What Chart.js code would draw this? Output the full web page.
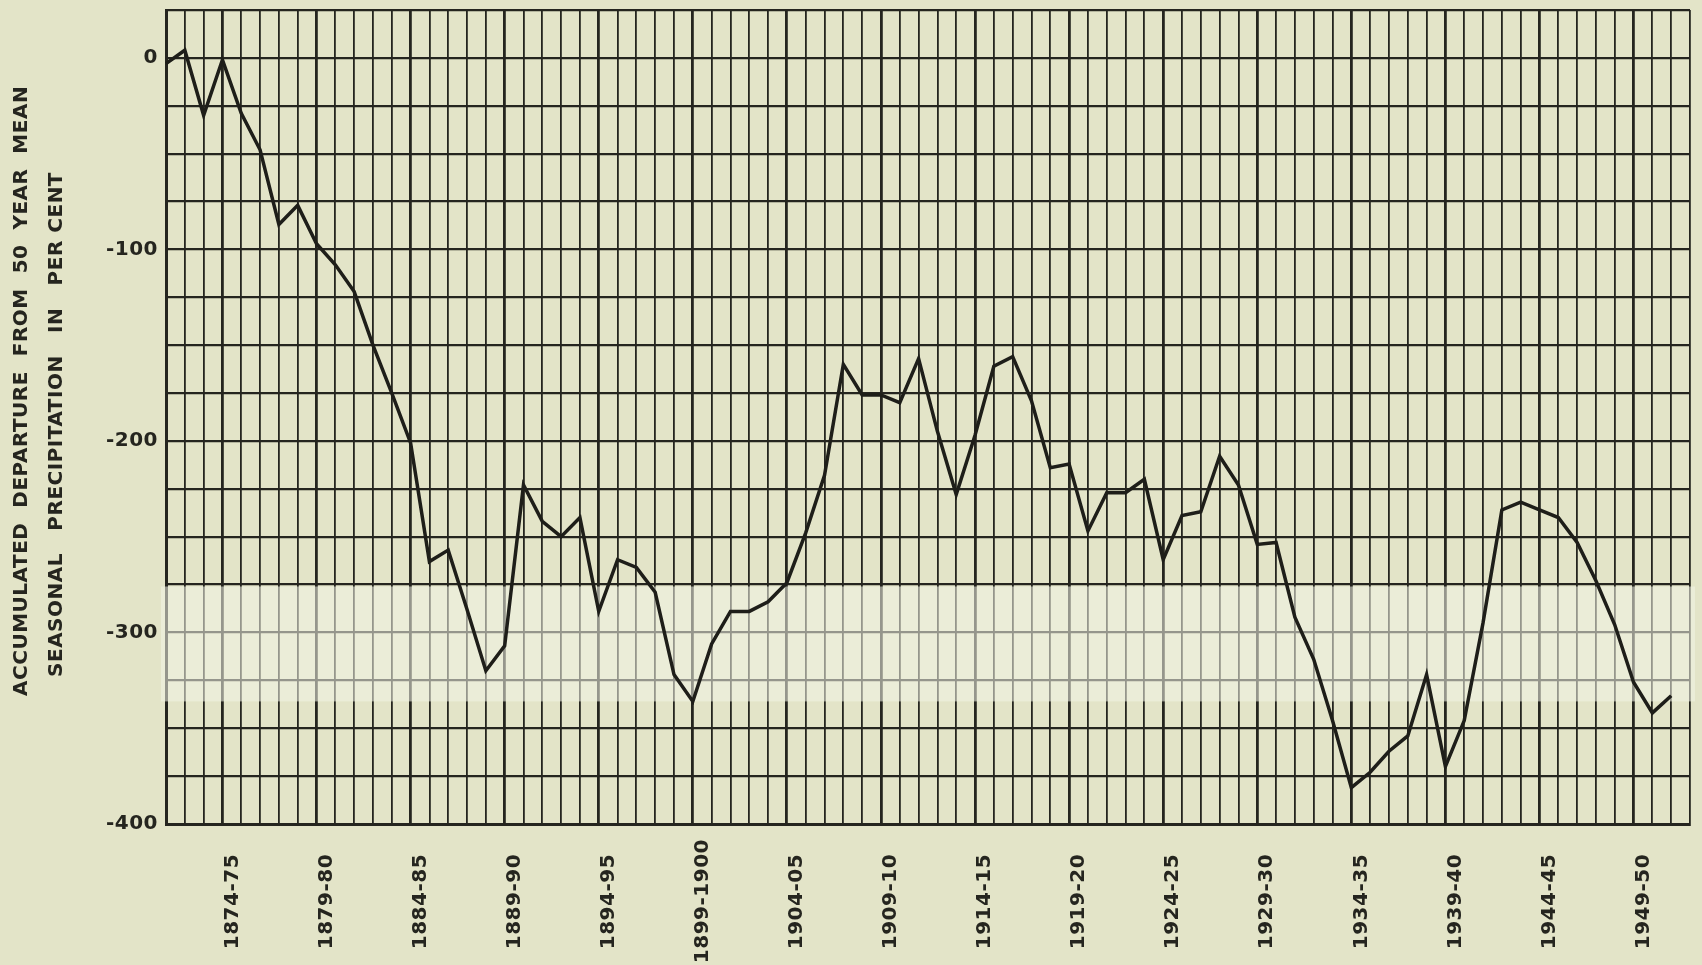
<!DOCTYPE html>
<html>
<head>
<script src="https://cdn.jsdelivr.net/npm/chart.js@4.4.0/dist/chart.umd.min.js"></script>
<title>Accumulated Departure from 50 Year Mean</title>
<style>
  html, body { margin: 0; padding: 0; background: #e3e4c8; }
  #graph-area { width: 1702px; height: 965px; }
</style>
</head>
<body>
<div id="graph-area"><canvas id="myChart"></canvas></div>
<script>
// one grid column per season, the last one is left empty
var seasons = [
  '1871-72', '1872-73', '1873-74', '1874-75', '1875-76', '1876-77', '1877-78', '1878-79', '1879-80', '1880-81',
  '1881-82', '1882-83', '1883-84', '1884-85', '1885-86', '1886-87', '1887-88', '1888-89', '1889-90', '1890-91',
  '1891-92', '1892-93', '1893-94', '1894-95', '1895-96', '1896-97', '1897-98', '1898-99', '1899-1900', '1900-01',
  '1901-02', '1902-03', '1903-04', '1904-05', '1905-06', '1906-07', '1907-08', '1908-09', '1909-10', '1910-11',
  '1911-12', '1912-13', '1913-14', '1914-15', '1915-16', '1916-17', '1917-18', '1918-19', '1919-20', '1920-21',
  '1921-22', '1922-23', '1923-24', '1924-25', '1925-26', '1926-27', '1927-28', '1928-29', '1929-30', '1930-31',
  '1931-32', '1932-33', '1933-34', '1934-35', '1935-36', '1936-37', '1937-38', '1938-39', '1939-40', '1940-41',
  '1941-42', '1942-43', '1943-44', '1944-45', '1945-46', '1946-47', '1947-48', '1948-49', '1949-50', '1950-51',
  '1951-52', '1952-53'
];

// accumulated departure, per cent
var departure = [
    -3,    4,  -30,   -1,  -29,  -48,  -87,  -77,  -97, -108,
  -122, -150, -175, -201, -263, -257, -288, -320, -307, -223,
  -242, -250, -240, -289, -262, -266, -279, -322, -336, -306,
  -289, -289, -284, -274, -248, -218, -160, -176, -176, -180,
  -157, -195, -228, -197, -161, -156, -179, -214, -212, -247,
  -227, -227, -220, -262, -239, -237, -208, -223, -254, -253,
  -292, -314, -346, -381, -373, -362, -354, -322, -370, -346,
  -295, -236, -232, -236, -240, -253, -273, -296, -326, -342,
  -333
];

var tickLabels = ['1874-75', '1879-80', '1884-85', '1889-90', '1894-95', '1899-1900', '1904-05', '1909-10',
                  '1914-15', '1919-20', '1924-25', '1929-30', '1934-35', '1939-40', '1944-45', '1949-50'];
var yLabels = [0, -100, -200, -300, -400];
var yTitle = ['       ACCUMULATED  DEPARTURE  FROM  50  YEAR  MEAN',
              'SEASONAL   PRECIPITATION   IN   PER CENT  '];

var ink = '#25251f';
var face = "'DejaVu Sans', sans-serif";

// lettering on the original is slightly spaced out
var lettering = {
  id: 'lettering',
  beforeUpdate: function(chart) { chart.ctx.letterSpacing = '0.5px'; },
  beforeDraw: function(chart) { chart.ctx.letterSpacing = '0.5px'; }
};

// the scan has a washed out strip across the lower part of the grid
var washOut = {
  id: 'washOut',
  beforeDatasetsDraw: function(chart) {
    var a = chart.chartArea, y = chart.scales.y, ctx = chart.ctx;
    var top = y.getPixelForValue(-276), bot = y.getPixelForValue(-336);
    ctx.save();
    ctx.fillStyle = 'rgba(243,244,230,0.55)';
    ctx.fillRect(a.left - 5, top, a.right - a.left + 10, bot - top);
    ctx.restore();
  }
};

var ctx = document.getElementById('myChart').getContext('2d');
var myChart = new Chart(ctx, {
  type: 'line',
  data: {
    labels: seasons,
    datasets: [{
      label: 'Accumulated departure',
      data: departure,
      borderColor: '#1e1e19',
      borderWidth: 3.5,
      pointRadius: 0,
      tension: 0,
      fill: false
    }]
  },
  options: {
    responsive: true,
    maintainAspectRatio: false,
    animation: false,
    layout: { padding: { left: 0, top: 10, right: 12, bottom: 0 } },
    plugins: {
      legend: { display: false },
      tooltip: { enabled: false }
    },
    scales: {
      x: {
        type: 'category',
        offset: false,
        grid: {
          color: ink,
          drawTicks: false,
          lineWidth: function(c) { return (c.index - 3) % 5 === 0 ? 2.8 : 1.8; }
        },
        border: { color: ink, width: 3 },
        ticks: {
          autoSkip: false,
          minRotation: 90,
          maxRotation: 90,
          padding: 15,
          labelOffset: 10,
          color: ink,
          font: { family: face, size: 20, weight: 'bold' },
          callback: function(val, i) {
            var s = seasons[i];
            if (tickLabels.indexOf(s) < 0) return '';
            return s.length < 9 ? s + '  ' : s; // centre the short ones on the long one
          }
        },
        afterFit: function(s) {
          s.height = 141;
          s.paddingLeft = 0;
          s.paddingRight = 0;
        }
      },
      y: {
        min: -400,
        max: 25,
        grid: { color: ink, lineWidth: 2.2, drawTicks: false },
        border: { color: ink, width: 3 },
        ticks: {
          stepSize: 25,
          padding: 8,
          color: ink,
          font: { family: face, size: 20, weight: 'bold' },
          callback: function(v) { return yLabels.indexOf(v) >= 0 ? String(v) : ''; }
        },
        title: {
          display: true,
          text: yTitle,
          color: ink,
          font: { family: face, size: 20, weight: 'bold', lineHeight: 1.75 },
          padding: { top: 4, bottom: 0 }
        },
        afterFit: function(s) {
          s.width = 166;
          s.paddingTop = 0;
          s.paddingBottom = 0;
        }
      }
    }
  },
  plugins: [lettering, washOut]
});
</script>
</body>
</html>
